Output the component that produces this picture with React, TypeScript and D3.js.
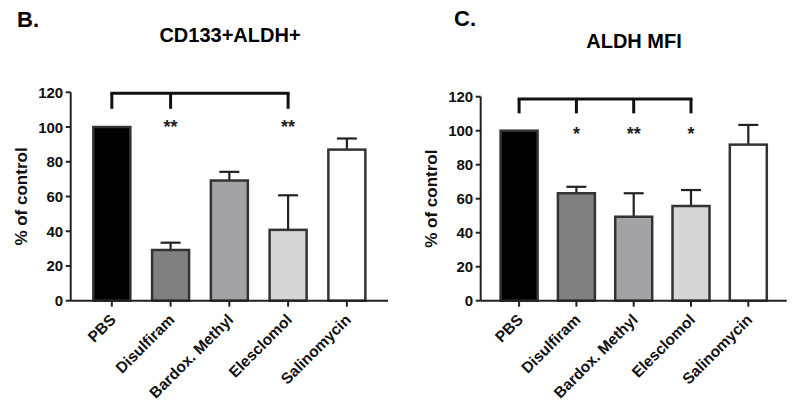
import React from "react";
import * as d3 from "d3";

const categories = ["PBS", "Disulfiram", "Bardox. Methyl", "Elesclomol", "Salinomycin"];
const fills = ["#000000", "#808080", "#a2a2a7", "#d6d6d6", "#ffffff"];
const cd133Values = [100, 29.2, 69.2, 40.8, 87];
const cd133Errors = [0, 33.4, 74.2, 60.7, 93.4];
const cd133Stars = ["", "**", "", "**", ""];
const cd133Bracket = [0, 1, 3];
const mfiValues = [100, 63.2, 49.4, 55.7, 91.8];
const mfiErrors = [0, 67, 63.2, 65.1, 103.4];
const mfiStars = ["", "*", "**", "*", ""];
const mfiBracket = [0, 1, 2, 3];
const yTicks = [0, 20, 40, 60, 80, 100, 120];

const FONT = "'Liberation Sans', Arial, Helvetica, sans-serif";
const STROKE = "#333";

type PanelProps = {
  letter: string;
  letterX: number;
  letterY: number;
  title: string;
  titleX: number;
  titleY: number;
  x0: number;
  x1: number;
  yTop: number;
  yBottom: number;
  pad: number;
  labelX: number;
  values: number[];
  errors: number[];
  stars: string[];
  bracket: number[];
  bracketTop: number;
  bracketLeg: number;
  starVal: number;
};

function Panel(p: PanelProps) {
  const y = d3.scaleLinear().domain([0, 120]).range([p.yBottom, p.yTop]);
  const x = d3.scalePoint<string>().domain(categories).range([p.x0, p.x1]).padding(p.pad);
  const bw = 37;
  const capW = 20;
  const bx = p.bracket.map((i) => x(categories[i]) as number);
  return (
    <g fontFamily={FONT} fontWeight="bold">
      <text x={p.letterX} y={p.letterY} fontSize={22} fill="#000">{p.letter}</text>
      <text x={p.titleX} y={p.titleY} fontSize={20} textAnchor="middle" fill="#000">{p.title}</text>
      <text
        transform={`translate(${p.labelX},${(p.yTop + p.yBottom) / 2}) rotate(-90)`}
        textAnchor="middle"
        fontSize={17}
        fill="#111"
      >
        % of control
      </text>
      {categories.map((c, i) => {
        const cx = x(c) as number;
        return (
          <g key={c}>
            <line x1={cx} x2={cx} y1={y(p.values[i])} y2={y(p.errors[i])} stroke="#222" strokeWidth={2.2} />
            <line x1={cx - capW / 2} x2={cx + capW / 2} y1={y(p.errors[i])} y2={y(p.errors[i])} stroke="#222" strokeWidth={2.2} />
            <rect
              x={cx - bw / 2}
              y={y(p.values[i])}
              width={bw}
              height={p.yBottom - y(p.values[i])}
              fill={fills[i]}
              stroke={STROKE}
              strokeWidth={2.5}
            />
            {p.stars[i] && (
              <text x={cx} y={y(p.starVal) + 9.5} textAnchor="middle" fontSize={18} fill="#222">
                {p.stars[i]}
              </text>
            )}
            <line x1={cx} x2={cx} y1={p.yBottom} y2={p.yBottom + 6} stroke="#222" strokeWidth={2} />
            <text
              transform={`translate(${cx + 5},${p.yBottom + 20}) rotate(-45)`}
              textAnchor="end"
              fontSize={15.5}
              fill="#111"
            >
              {c}
            </text>
          </g>
        );
      })}
      {/* axes */}
      <line x1={p.x0} x2={p.x0} y1={p.yTop} y2={p.yBottom} stroke="#222" strokeWidth={2} />
      <line x1={p.x0} x2={p.x1} y1={p.yBottom} y2={p.yBottom} stroke="#222" strokeWidth={2} />
      {yTicks.map((t) => (
        <g key={t}>
          <line x1={p.x0 - 5} x2={p.x0} y1={y(t)} y2={y(t)} stroke="#222" strokeWidth={2} />
          <text x={p.x0 - 7.5} y={y(t) + 5.5} textAnchor="end" fontSize={15} fill="#111">{t}</text>
        </g>
      ))}
      {/* bracket */}
      <line
        x1={bx[0]}
        x2={bx[bx.length - 1]}
        y1={y(p.bracketTop)}
        y2={y(p.bracketTop)}
        stroke="#111"
        strokeWidth={3}
        strokeLinecap="square"
      />
      {bx.map((v, i) => (
        <line key={i} x1={v} x2={v} y1={y(p.bracketTop)} y2={y(p.bracketLeg)} stroke="#111" strokeWidth={3} />
      ))}
    </g>
  );
}

export default function App() {
  return (
    <svg width={798} height={410} style={{ position: "absolute", left: 0, top: 0, background: "#fff" }}>
      <rect width={798} height={410} fill="#fff" />
      <Panel
        letter="B."
        letterX={17}
        letterY={27}
        title="CD133+ALDH+"
        titleX={230}
        titleY={42}
        x0={70.7}
        x1={388}
        yTop={92.3}
        yBottom={300.7}
        pad={0.7}
        labelX={27}
        values={cd133Values}
        errors={cd133Errors}
        stars={cd133Stars}
        bracket={cd133Bracket}
        bracketTop={119.5}
        bracketLeg={110.5}
        starVal={102}
      />
      <Panel
        letter="C."
        letterX={454}
        letterY={26}
        title="ALDH MFI"
        titleX={634}
        titleY={48}
        x0={480.7}
        x1={786.7}
        yTop={96.7}
        yBottom={300.7}
        pad={0.67}
        labelX={437}
        values={mfiValues}
        errors={mfiErrors}
        stars={mfiStars}
        bracket={mfiBracket}
        bracketTop={118.6}
        bracketLeg={110.2}
        starVal={100}
      />
    </svg>
  );
}
